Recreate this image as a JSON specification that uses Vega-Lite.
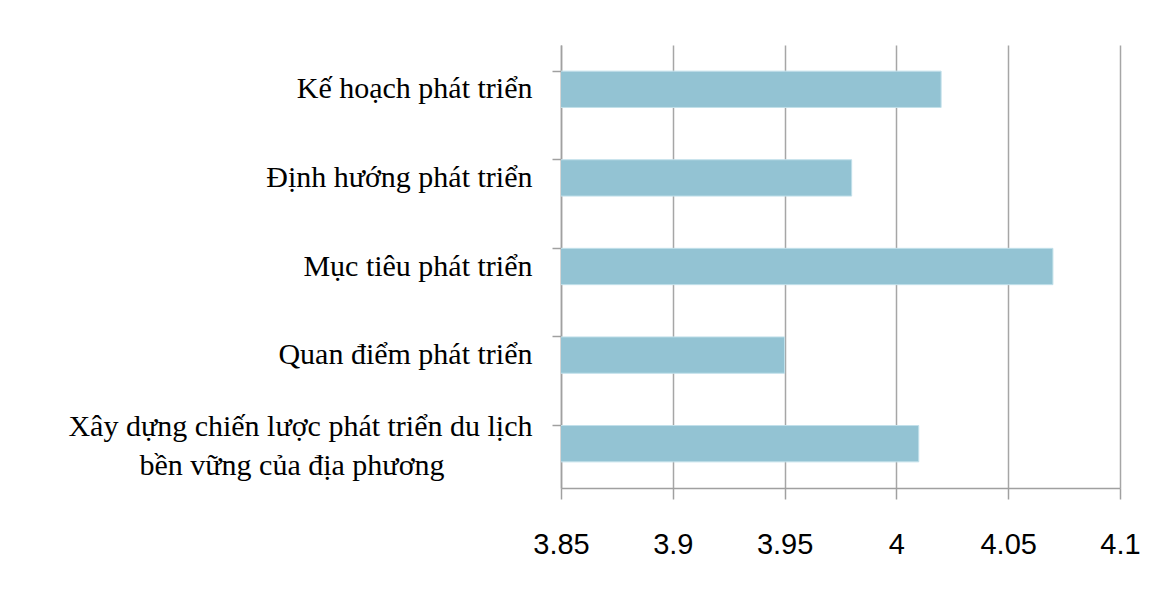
{
  "$schema": "https://vega.github.io/schema/vega-lite/v6.json",
  "width": 559,
  "height": 443,
  "autosize": {"type": "none"},
  "padding": {"left": 561, "top": 45, "right": 51, "bottom": 108},
  "background": "white",
  "config": {"view": {"stroke": null}},
  "data": {
    "values": [
      {"category": "Kế hoạch phát triển", "value": 4.02},
      {"category": "Định hướng phát triển", "value": 3.98},
      {"category": "Mục tiêu phát triển", "value": 4.07},
      {"category": "Quan điểm phát triển", "value": 3.95},
      {"category": "Xây dựng chiến lược phát triển du lịch bền vững của địa phương", "value": 4.01}
    ]
  },
  "layer": [
    {
      "mark": {"type": "bar", "fill": "#93C3D3", "stroke": "#C2E0EA", "strokeWidth": 1, "clip": true},
      "encoding": {
        "y": {
          "field": "category", "type": "nominal", "sort": null,
          "scale": {"paddingInner": 0.59, "paddingOuter": 0.295},
          "axis": {
            "title": null, "ticks": false, "domain": true, "domainColor": "#A0A0A0", "domainWidth": 1.5,
            "labelFont": "Liberation Serif", "labelFontSize": 30, "labelColor": "#000000",
            "labelPadding": 29, "labelLimit": 0, "labelLineHeight": 39,
            "labelOffset": {"condition": {"test": "length(datum.label) > 40", "value": -17}, "value": 0},
            "labelExpr": "datum.label == 'Xây dựng chiến lược phát triển du lịch bền vững của địa phương' ? ['Xây dựng chiến lược phát triển du lịch', 'bền vững của địa phương\u2800\u2800\u2800\u2800'] : datum.label"
          }
        },
        "x": {
          "field": "value", "type": "quantitative",
          "scale": {"domain": [3.85, 4.1], "zero": false, "nice": false},
          "axis": {
            "title": null, "values": [3.85, 3.9, 3.95, 4, 4.05, 4.1], "format": "~g",
            "grid": true, "gridColor": "#A6A6A6", "gridWidth": 1.5,
            "domainColor": "#A0A0A0", "domainWidth": 1.5,
            "tickColor": "#A0A0A0", "tickWidth": 1.5, "tickSize": 11,
            "labelFont": "Liberation Sans", "labelFontSize": 29, "labelColor": "#000000",
            "labelPadding": 31, "labelFlush": false, "labelOverlap": false
          }
        }
      }
    },
    {
      "mark": {"type": "bar", "opacity": 0},
      "encoding": {
        "y": {
          "field": "category", "type": "nominal", "sort": null,
          "axis": {
            "orient": "left", "title": null, "labels": false, "domain": false, "grid": false,
            "ticks": true, "bandPosition": 0, "tickColor": "#A0A0A0", "tickWidth": 1.5, "tickSize": 9
          }
        },
        "x": {"field": "value", "type": "quantitative"}
      }
    }
  ],
  "resolve": {"axis": {"y": "independent"}}
}
